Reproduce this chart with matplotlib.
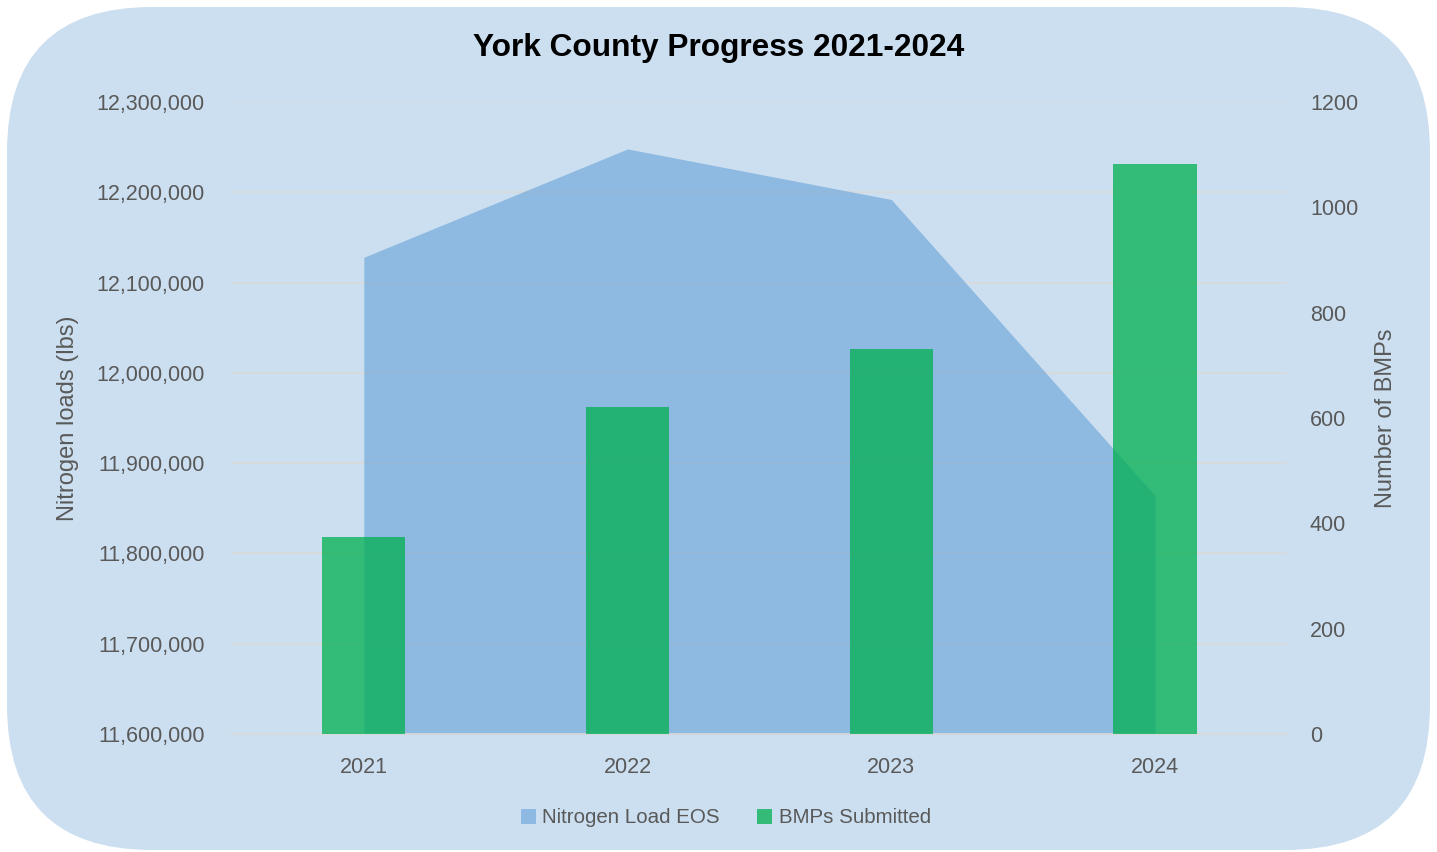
import numpy as np
import matplotlib
matplotlib.use("Agg")
import matplotlib.pyplot as plt
from matplotlib.patches import FancyBboxPatch, Patch
from matplotlib.ticker import FuncFormatter

years = ["2021", "2022", "2023", "2024"]
nitrogen_load = [12128000, 12248000, 12192000, 11864000]
bmps_submitted = [374, 621, 731, 1082]

plt.rcParams["font.family"] = ["Liberation Sans", "DejaVu Sans"]

txt = "#595959"
grid = "#D9D9D9"

fig = plt.figure(figsize=(14.37, 8.52), dpi=100)
fig.patch.set_facecolor("white")

#------------------------------------ rounded background panel
bg = FancyBboxPatch((0.07, 0.02), 14.23, 8.43,
                    boxstyle="round,pad=0,rounding_size=1.45",
                    transform=fig.dpi_scale_trans,
                    facecolor="#CCDFF0", edgecolor="none", zorder=-10)
fig.patches.append(bg)

ax = fig.add_axes([0.1614, 0.1385, 0.7342, 0.7418])
ax.patch.set_alpha(0)
x = np.arange(len(years))

ax.fill_between(x, nitrogen_load, 11600000, color="#5B9BD5",
                alpha=0.55, linewidth=0, zorder=2)
ax.set_ylim(11600000, 12300000)
ax.set_yticks(np.arange(11600000, 12300001, 100000))
ax.yaxis.set_major_formatter(FuncFormatter(lambda v, p: f"{v:,.0f}"))
ax.grid(axis="y", color=grid, linewidth=1.2, zorder=1)
ax.set_axisbelow(True)
ax.set_xlim(-0.5, 3.5)
ax.set_xticks(x)
ax.set_xticklabels(years)

ax2 = ax.twinx()
ax2.patch.set_alpha(0)
ax2.bar(x, bmps_submitted, width=0.316, color="#00B050", alpha=0.75,
        zorder=3)
ax2.set_ylim(0, 1200)
ax2.set_yticks(np.arange(0, 1201, 200))

for a in (ax, ax2):
    for s in a.spines.values():
        s.set_visible(False)
    a.tick_params(length=0, labelsize=15.5, labelcolor=txt)
ax.spines["bottom"].set_visible(True)
ax.spines["bottom"].set_color(grid)
ax.spines["bottom"].set_linewidth(1.2)
ax.tick_params(axis="y", pad=19.5)
ax.tick_params(axis="x", pad=16.5)
ax2.tick_params(axis="y", pad=16.5)

ax.set_ylabel("Nitrogen loads (lbs)", fontsize=17, color=txt, labelpad=12.5)
ax2.set_ylabel("Number of BMPs", fontsize=17, color=txt, labelpad=12.4)

fig.text(0.5, 0.944, "York County Progress 2021-2024", ha="center",
         va="center", fontsize=22.8, fontweight="bold", color="black")

handles = [Patch(facecolor="#8DB9E3", edgecolor="none"),
           Patch(facecolor="#33BB77", edgecolor="none")]
fig.legend(handles, ["Nitrogen Load EOS", "BMPs Submitted"],
           loc="center", bbox_to_anchor=(0.505, 0.04), ncol=2,
           frameon=False, fontsize=14.8, labelcolor=txt,
           handlelength=0.75, handleheight=0.75, handletextpad=0.3,
           columnspacing=1.8)

fig.savefig("out.png", dpi=100)
